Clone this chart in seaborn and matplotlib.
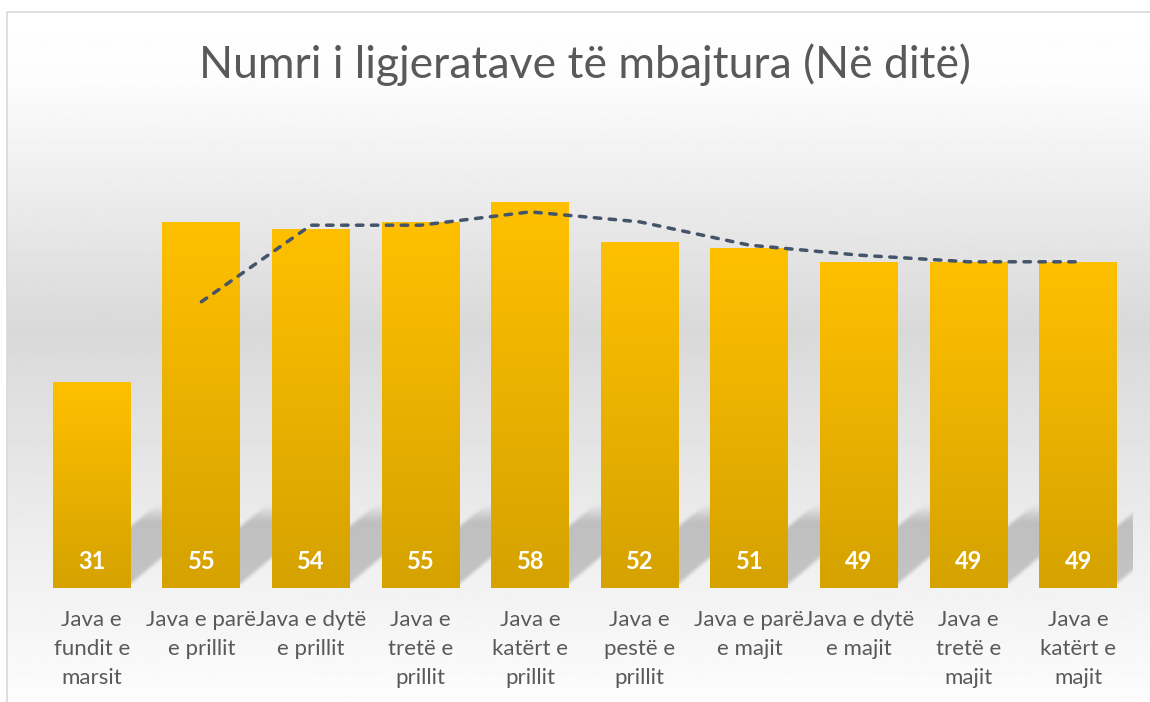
import numpy as np
import pandas as pd
import matplotlib
matplotlib.use('Agg')
import matplotlib.pyplot as plt
import seaborn as sns
from matplotlib.colors import LinearSegmentedColormap

# Data
weeks = [
    'Java e\nfundit e\nmarsit',
    'Java e parë\ne prillit',
    'Java e dytë\ne prillit',
    'Java e\ntretë e\nprillit',
    'Java e\nkatërt e\nprillit',
    'Java e\npestë e\nprillit',
    'Java e parë\ne majit',
    'Java e dytë\ne majit',
    'Java e\ntretë e\nmajit',
    'Java e\nkatërt e\nmajit',
]
lectures = [31, 55, 54, 55, 58, 52, 51, 49, 49, 49]
# 2-period moving average trendline (starts at the second week)
trend_pos = [1, 2, 3, 4, 5, 6, 7, 8, 9]
trend_vals = [43, 54.5, 54.5, 56.5, 55, 51.5, 50, 49, 49]

title = 'Numri i ligjeratave të mbajtura (Në ditë)'

sns.set_style('white')
plt.rcParams['font.family'] = ['Lato', 'DejaVu Sans']

W, H = 1150, 702
fig = plt.figure(figsize=(W / 100, H / 100), dpi=100)
fig.patch.set_facecolor('white')

# background: chart area with vertical grey gradient and thin border
bg = fig.add_axes([0, 0, 1, 1])
bg.set_xlim(0, W)
bg.set_ylim(H, 0)
bg.axis('off')
rows = np.arange(12, H + 1)
levels = np.interp(rows, [12, 80, 330, 590, 702], [1.0, 0.99, 0.85, 0.95, 0.99])
grad_img = np.repeat(levels[:, None], 2, axis=1)
bg.imshow(grad_img, cmap='gray', vmin=0, vmax=1, extent=[7, W, H, 12],
          aspect='auto', origin='upper', zorder=0)
bg.plot([7, 7, W], [H, 12, 12], color='#D9D9D9', lw=1.2, zorder=1)

ax = fig.add_axes([37 / W, 114 / H, 1096 / W, 466 / H])
ax.patch.set_alpha(0)

df = pd.DataFrame({'week': weeks, 'lectures': lectures})
sns.barplot(data=df, x='week', y='lectures', color='#FFC000', width=0.71,
            saturation=1, linewidth=0, ax=ax, zorder=3)


def ramp(t):
    t = np.clip(t, 0, 1)
    return t * t * (3 - 2 * t)


bar_cmap = LinearSegmentedColormap.from_list('bar', ['#D5A200', '#FFC000'])
grad = np.linspace(0, 1, 256).reshape(-1, 1)
skew, sh_top = 0.072, 13.0
for p in ax.patches:
    x0, w, h = p.get_x(), p.get_width(), p.get_height()
    x1 = x0 + w
    # soft slanted shadow cast behind each bar
    gx = np.linspace(x0 - 0.1, x1 + 1.1, 240)
    gy = np.linspace(0, sh_top + 1, 120)
    X, Y = np.meshgrid(gx, gy)
    U = X - skew * Y
    a = (ramp((U - x0) / 0.09) * ramp((x1 - U) / 0.09)
         * ramp(Y / 0.8) * ramp((sh_top - Y) / 3.5)) * 0.28
    rgba = np.zeros(a.shape + (4,))
    rgba[..., :3] = 0.3
    rgba[..., 3] = a
    ax.imshow(rgba, extent=[gx[0], gx[-1], gy[0], gy[-1]], origin='lower',
              aspect='auto', zorder=1, interpolation='bilinear')
    im = ax.imshow(grad, extent=[x0, x1, 0, h], cmap=bar_cmap,
                   aspect='auto', origin='lower', zorder=3)
    im.set_clip_path(p)
    p.set_facecolor('none')
    p.set_edgecolor('none')

sns.lineplot(x=trend_pos, y=trend_vals, ax=ax, color='#44546A', lw=2.5,
             zorder=4)
line = ax.lines[-1]
line.set_dashes((1.85, 2.45))
line.set_dash_capstyle('round')
line.set_solid_joinstyle('round')

for i, v in enumerate(lectures):
    ax.annotate(str(v), xy=(i, 0), xytext=(0, 13.5), textcoords='offset points',
                ha='center', va='baseline', color='white', fontsize=17,
                fontweight='bold', zorder=5)

ax.set_xlim(-0.5, 9.5)
ax.set_ylim(0, 70)
ax.set_xlabel('')
ax.set_ylabel('')
ax.set_yticks([])
ax.tick_params(axis='x', length=0, pad=16, labelsize=16, labelcolor='#595959')
for lab in ax.get_xticklabels():
    lab.set_linespacing(1.55)
sns.despine(ax=ax, left=True, bottom=True)

fig.text(585 / W, 1 - 78 / H, title, ha='center', va='baseline',
         fontsize=32, color='#595959')

fig.savefig('out.png', dpi=100)
